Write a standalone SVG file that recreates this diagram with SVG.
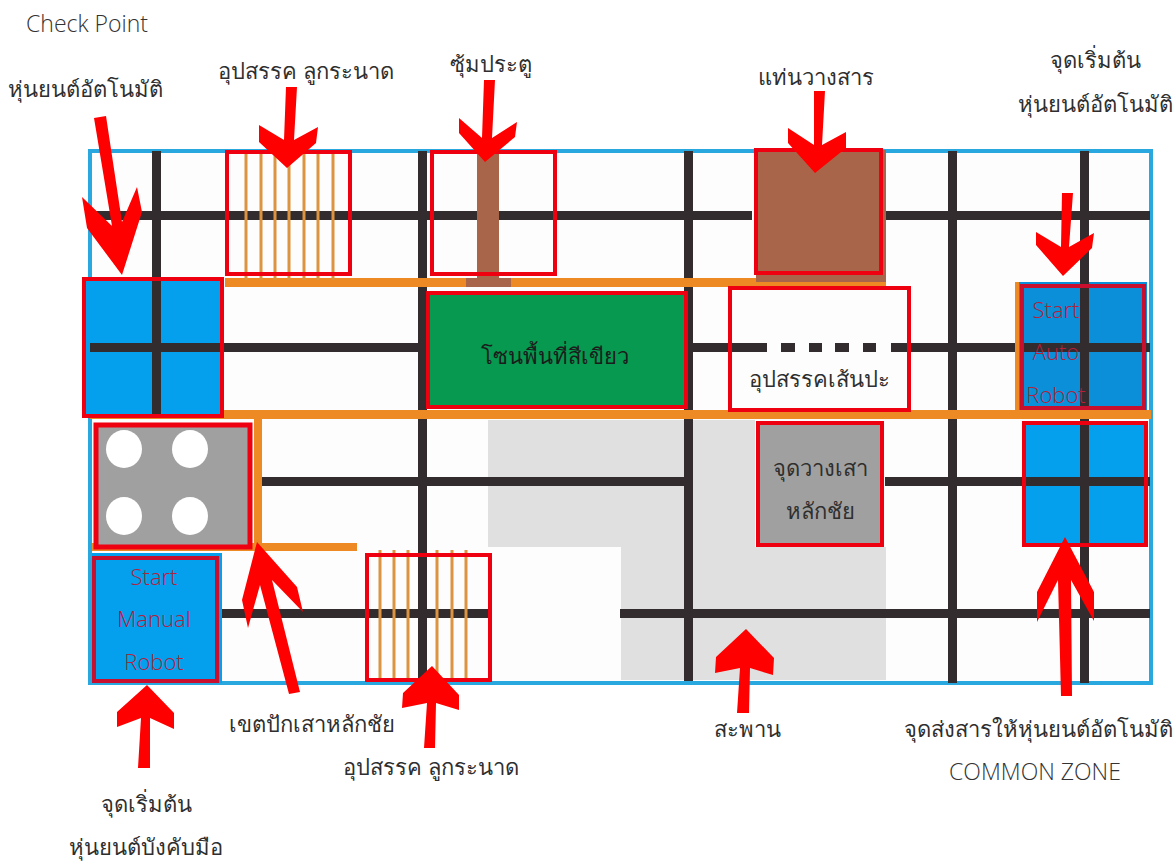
<svg xmlns="http://www.w3.org/2000/svg" width="1174" height="863" viewBox="0 0 1174 863">
<style>
.lbl{font-family:"Noto Sans","DejaVu Sans",sans-serif;font-size:22px;fill:#2f2f2f;text-anchor:middle}
.lat{font-family:"Open Sans","Noto Sans",sans-serif;font-size:23px;font-weight:300;fill:#333;text-anchor:middle}
.red{font-family:"Open Sans","Noto Sans",sans-serif;font-size:22px;font-weight:300;fill:#b5203a;text-anchor:middle}
.k{fill:#332c2f}
.o{fill:#ee8a24}
.b{stroke:#ee0010;stroke-width:4;fill:none}
.d{stroke:#c8102e;stroke-width:4;fill:none}
.rung{stroke:#dc9440;stroke-width:3;fill:none}
.arrow{fill:#fe0000}
</style>
<rect width="1174" height="863" fill="#fff"/>
<g id="field">
<rect x="90" y="151" width="1061" height="532" fill="#fdfdfd" stroke="#29a8e0" stroke-width="4"/>
<polygon points="488,420 755,420 755,547 886,547 886,680 621,680 621,547 488,547" fill="#e0e0e0"/>
</g>
<g id="lines">
<rect class="k" x="152" y="151" width="9" height="264"/>
<rect class="k" x="418" y="151" width="9" height="530"/>
<rect class="k" x="684" y="151" width="9" height="530"/>
<rect class="k" x="948" y="151" width="9" height="532"/>
<rect class="k" x="1080" y="151" width="9" height="532"/>
<rect class="k" x="90" y="211" width="662" height="9"/>
<rect class="k" x="885" y="211" width="265" height="9"/>
<rect class="k" x="90" y="343" width="338" height="9"/>
<rect class="k" x="690" y="343" width="77" height="9"/>
<rect class="k" x="781" y="343" width="14" height="9"/>
<rect class="k" x="809" y="343" width="13" height="9"/>
<rect class="k" x="835" y="343" width="14" height="9"/>
<rect class="k" x="863" y="343" width="13" height="9"/>
<rect class="k" x="891" y="343" width="259" height="9"/>
<rect class="k" x="261" y="477" width="427" height="9"/>
<rect class="k" x="885" y="477" width="265" height="9"/>
<rect class="k" x="222" y="609" width="266" height="9"/>
<rect class="k" x="620" y="609" width="530" height="9"/>
</g>
<g id="walls">
<rect class="o" x="225" y="278" width="661" height="9"/>
<rect class="o" x="90" y="410" width="1061" height="9"/>
<rect class="o" x="254" y="415" width="8" height="135"/>
<rect class="o" x="92" y="543" width="265" height="8"/>
<rect class="o" x="1015" y="282" width="8" height="133"/>
</g>
<g id="check-point">
<rect x="84" y="279" width="138" height="137" fill="#04a0ee"/>
<rect class="k" x="152" y="281" width="9" height="133"/>
<rect class="k" x="90" y="343" width="132" height="9"/>
<rect class="b" x="84" y="279" width="138" height="137"/>
</g>
<g id="seesaw-top">
<path class="rung" d="M246 152V280M261 152V280M275 152V280M289 152V280M304 152V280M318 152V280M333 152V280"/>
<rect class="b" x="227" y="152" width="123" height="122"/>
</g>
<g id="gate">
<rect x="477" y="146" width="22" height="136" fill="#a8654a"/>
<rect x="466" y="278" width="45" height="9" fill="#a8654a"/>
<rect class="b" x="432" y="152" width="123" height="122"/>
</g>
<g id="green-zone">
<rect class="b" x="428" y="293" width="258" height="114" style="fill:#06994f"/>
<text class="lbl" x="555" y="364" style="fill:#1c1c1c">โซนพื้นที่สีเขียว</text>
</g>
<g id="platform">
<rect x="756" y="150" width="130" height="132" fill="#a8654a"/>
<rect class="b" x="756" y="150" width="125" height="123"/>
</g>
<g id="dashed-obstacle">
<rect class="b" x="730" y="288" width="179" height="122"/>
<text class="lbl" x="819" y="387">อุปสรรคเส้นปะ</text>
</g>
<g id="start-auto">
<rect x="1019" y="282" width="128" height="128" fill="#0a8fd8"/>
<rect class="k" x="1080" y="282" width="9" height="128"/>
<rect class="k" x="1023" y="343" width="127" height="9"/>
<rect class="d" x="1022" y="286" width="122" height="122"/>
<text class="red" x="1056" y="318">Start</text>
<text class="red" x="1056" y="360">Auto</text>
<text class="red" x="1056" y="403">Robot</text>
</g>
<g id="common-zone">
<rect x="1024" y="423" width="122" height="122" fill="#04a0ee"/>
<rect class="k" x="1080" y="419" width="9" height="126"/>
<rect class="k" x="1024" y="477" width="126" height="9"/>
<rect class="b" x="1024" y="423" width="122" height="122"/>
</g>
<g id="pole-zone">
<rect x="96" y="425" width="154" height="122" fill="#a0a0a0" stroke="#ee0010" stroke-width="5"/>
<ellipse cx="124" cy="449" rx="18" ry="19" fill="#fff"/>
<ellipse cx="190" cy="449" rx="18" ry="19" fill="#fff"/>
<ellipse cx="124" cy="516" rx="18" ry="19" fill="#fff"/>
<ellipse cx="190" cy="516" rx="18" ry="19" fill="#fff"/>
</g>
<g id="start-manual">
<rect x="92" y="553" width="130" height="130" fill="#04a0ee"/>
<rect class="d" x="94" y="558" width="123" height="123"/>
<text class="red" x="154" y="585">Start</text>
<text class="red" x="154" y="627">Manual</text>
<text class="red" x="154" y="670">Robot</text>
</g>
<g id="seesaw-bottom">
<path class="rung" d="M380 550V680M394 550V680M408 550V680M437 550V680M452 550V680M466 550V680"/>
<rect class="b" x="367" y="555" width="123" height="125"/>
</g>
<g id="pole-place">
<rect x="758" y="423" width="124" height="122" fill="#a0a0a0" stroke="#ee0010" stroke-width="4"/>
<text class="lbl" x="820" y="476">จุดวางเสา</text>
<text class="lbl" x="820" y="519">หลักชัย</text>
</g>
<g id="connectors">
<polygon class="arrow" points="94,118 106,116 122,222 137,187 142,212 122,275 87,228 82,197 112,226"/>
<polygon class="arrow" points="286,87 297,87 294,140 318,127 316,143 287,168 259,142 259,125 284,140"/>
<polygon class="arrow" points="484,80 495,80 492,138 517,122 515,137 485,162 459,133 459,118 482,138"/>
<polygon class="arrow" points="814,91 825,91 822,145 846,132 846,148 815,173 788,143 788,128 814,145"/>
<polygon class="arrow" points="1062,193 1073,193 1069,247 1094,233 1092,248 1063,276 1036,245 1036,232 1061,247"/>
<polygon class="arrow" points="257,542 297,587 303,612 272,580 300,692 289,694 260,585 248,628 242,600"/>
<polygon class="arrow" points="147,685 174,713 174,729 150,718 150,768 138,768 141,718 117,727 117,712"/>
<polygon class="arrow" points="432,666 459,695 459,710 436,703 435,748 424,748 427,703 402,708 403,693"/>
<polygon class="arrow" points="746,629 774,658 773,675 750,668 749,713 737,713 740,668 715,673 716,657"/>
<polygon class="arrow" points="1065,537 1094,592 1094,621 1071,580 1072,696 1061,696 1058,580 1037,622 1037,592"/>
</g>
<g id="labels">
<text class="lat" x="87" y="32">Check Point</text>
<text class="lbl" x="85" y="97">หุ่นยนต์อัตโนมัติ</text>
<text class="lbl" x="306" y="79">อุปสรรค ลูกระนาด</text>
<text class="lbl" x="491" y="72">ซุ้มประตู</text>
<text class="lbl" x="816" y="85">แท่นวางสาร</text>
<text class="lbl" x="1095" y="68">จุดเริ่มต้น</text>
<text class="lbl" x="1095" y="112">หุ่นยนต์อัตโนมัติ</text>
<text class="lbl" x="312" y="732">เขตปักเสาหลักชัย</text>
<text class="lbl" x="431" y="775">อุปสรรค ลูกระนาด</text>
<text class="lbl" x="747" y="737">สะพาน</text>
<text class="lbl" x="1038" y="737">จุดส่งสารให้หุ่นยนต์อัตโนมัติ</text>
<text class="lat" x="1035" y="780">COMMON ZONE</text>
<text class="lbl" x="146" y="812">จุดเริ่มต้น</text>
<text class="lbl" x="146" y="855">หุ่นยนต์บังคับมือ</text>
</g>
</svg>
